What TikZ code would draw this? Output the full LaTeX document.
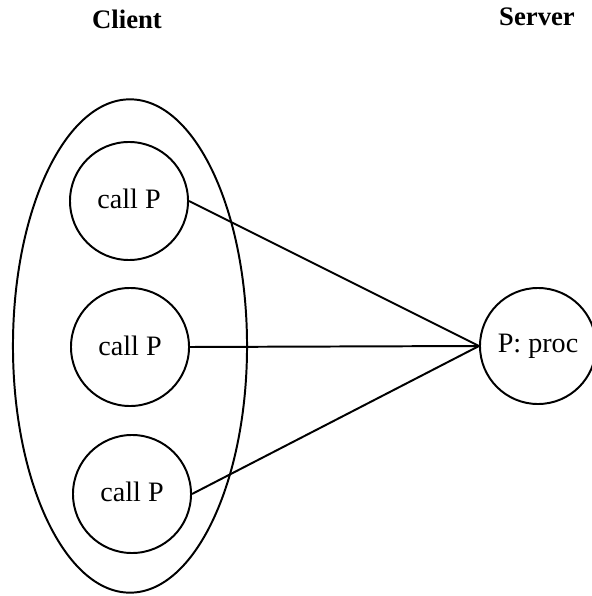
\documentclass[tikz,border=0pt]{standalone}
\usepackage{fontspec}
\setmainfont{Liberation Serif}
\usepackage{tikz}
\usetikzlibrary{shapes}

\tikzset{
  callcirc/.style={draw, circle, line width=1.4pt, minimum size=2.95cm, inner sep=0pt, font=\fontsize{20}{24}\selectfont},
  sidelabel/.style={font=\fontsize{19}{23}\selectfont\bfseries},
  link/.style={line width=1.4pt}
}

\begin{document}
\begin{tikzpicture}[x=0.025cm, y=-0.025cm]
  \useasboundingbox (0,0) rectangle (591,596);

  % Headings
  \node[sidelabel] (clientlbl) at (127, 19) {Client};
  \node[sidelabel] (serverlbl) at (537, 17) {Server};

  % Client process
  \node[draw, ellipse, line width=1.4pt, minimum width=5.85cm, minimum height=12.33cm] (client) at (130, 346) {};

  % Calls
  \node[callcirc] (call1) at (129, 201) {\raisebox{3pt}{call P}};
  \node[callcirc] (call2) at (130, 347) {\raisebox{2pt}{call P}};
  \node[callcirc] (call3) at (132, 494) {\raisebox{3pt}{call P}};

  % Server
  \node[callcirc, minimum size=2.9cm] (proc) at (538, 346) {P: proc};

  % Links
  \draw[link] (call1.east) -- (proc.west);
  \draw[link] (call2.east) -- (proc.west);
  \draw[link] (call3.east) -- (proc.west);
\end{tikzpicture}
\end{document}
